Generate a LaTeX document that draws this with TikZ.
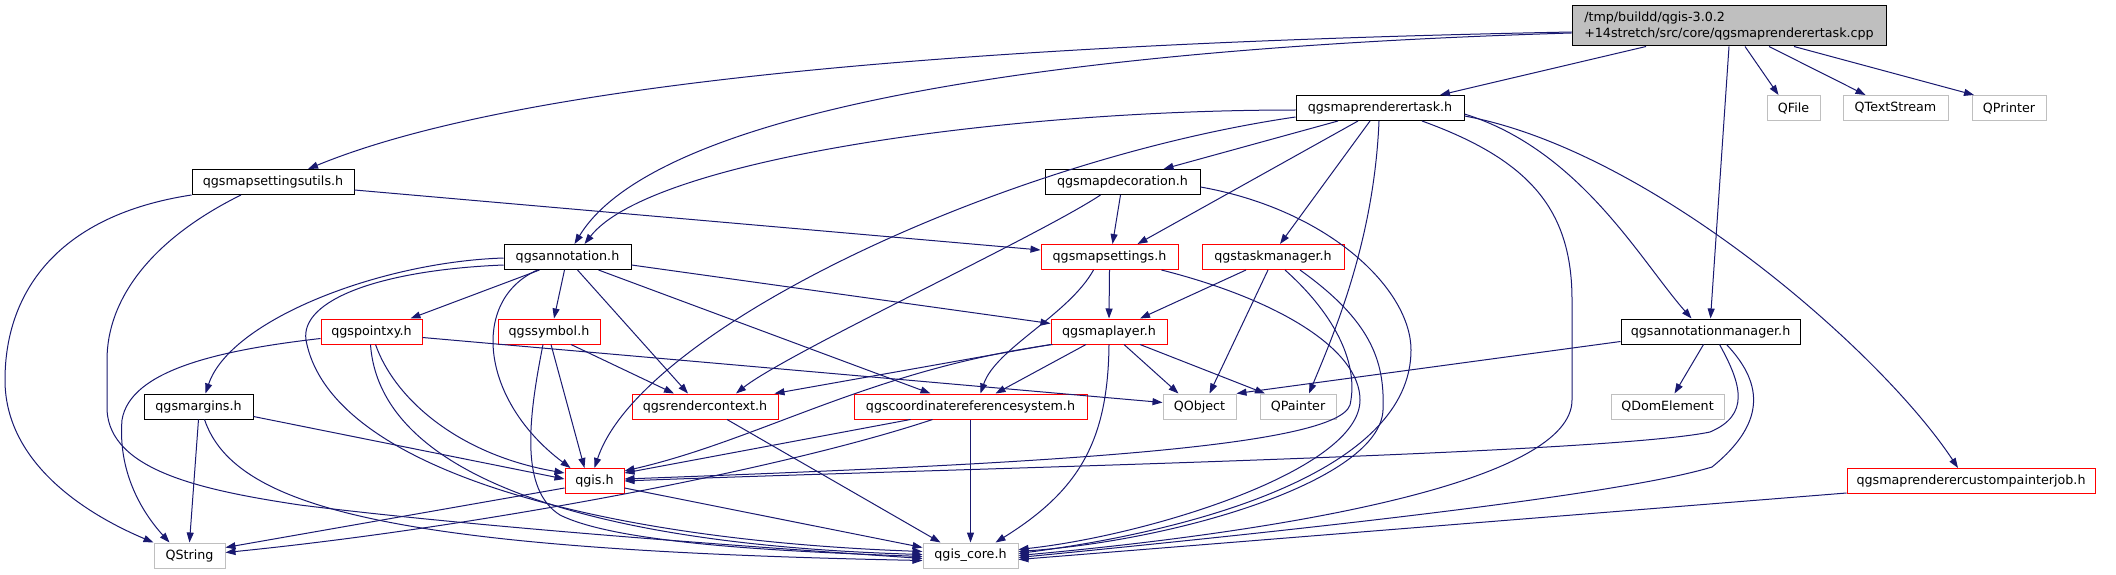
\documentclass[tikz,border=0pt]{standalone}
\usepackage{fontspec}
\setmainfont{DejaVu Sans}
\usetikzlibrary{arrows.meta}
\definecolor{midblue}{HTML}{191970}
\definecolor{grey75}{HTML}{BFBFBF}
\begin{document}
\begin{tikzpicture}[x=1pt,y=-1pt,every node/.style={font=\fontsize{12.7}{15.5}\selectfont},
 hdr/.style={draw=black,line width=1pt,fill=white,minimum height=25,inner sep=0pt},
 hdrcut/.style={hdr,draw=red},
 sys/.style={hdr,draw=grey75},
 dep/.style={draw=midblue,line width=1pt,-{Triangle[length=10pt,width=7pt]}}]
\path[fill=white] (0,0) rectangle (2116,575);
% nodes, row by row
\node[hdr,fill=grey75,minimum width=314,minimum height=40,align=left] (root) at (1729,26) {/tmp/buildd/qgis-3.0.2\\+14stretch/src/core/qgsmaprenderertask.cpp};
\node[hdr,minimum width=168] (mrtaskh) at (1380,108) {qgsmaprenderertask.h}; \node[sys,minimum width=53] (qfile) at (1793.5,108) {QFile};
\node[sys,minimum width=105] (qtextstream) at (1895.5,108) {QTextStream}; \node[sys,minimum width=74] (qprinter) at (2009,108) {QPrinter};
\node[hdr,minimum width=162] (msutils) at (273,182) {qgsmapsettingsutils.h}; \node[hdr,minimum width=155] (mapdeco) at (1122.5,182) {qgsmapdecoration.h};
\node[hdr,minimum width=127] (annot) at (567.5,257) {qgsannotation.h}; \node[hdrcut,minimum width=137] (mapset) at (1109.5,257) {qgsmapsettings.h};
\node[hdrcut,minimum width=142] (taskmgr) at (1273,257) {qgstaskmanager.h};
\node[hdrcut,minimum width=101] (pointxy) at (371.5,331.5) {qgspointxy.h}; \node[hdrcut,minimum width=102] (symbol) at (549,331.5) {qgssymbol.h};
\node[hdrcut,minimum width=116] (maplayer) at (1109,331.5) {qgsmaplayer.h}; \node[hdr,minimum width=179] (annotmgr) at (1710.5,331.5) {qgsannotationmanager.h};
\node[hdr,minimum width=109] (margins) at (198.5,406.5) {qgsmargins.h}; \node[hdrcut,minimum width=146] (rendctx) at (705,406.5) {qgsrendercontext.h};
\node[hdrcut,minimum width=233] (crs) at (970.5,406.5) {qgscoordinatereferencesystem.h}; \node[sys,minimum width=73] (qobject) at (1199.5,406.5) {QObject};
\node[sys,minimum width=76] (qpainter) at (1298,406.5) {QPainter}; \node[sys,minimum width=113] (qdomelement) at (1667.5,406.5) {QDomElement};
\node[hdrcut,minimum width=59] (qgish) at (594.5,481) {qgis.h}; \node[hdrcut,minimum width=248] (custjob) at (1971,481) {qgsmaprenderercustompainterjob.h};
\node[sys,minimum width=71] (qstring) at (189.5,555.5) {QString}; \node[sys,minimum width=95] (qgiscore) at (970.5,555.5) {qgis\_core.h};
% includes of the .cpp
\draw[dep] ([xshift=-83]root.south) -- ([xshift=60]mrtaskh.north); \draw[dep] (root.south) -- (annotmgr.north);
\draw[dep] ([xshift=16]root.south) -- ([xshift=-15]qfile.north); \draw[dep] ([xshift=40]root.south) -- ([xshift=-30]qtextstream.north);
\draw[dep] ([xshift=65]root.south) -- ([xshift=-35]qprinter.north);
\draw[dep] ([yshift=-6]root.west) .. controls (900,45) and (500,90) .. ([xshift=35]msutils.north);
\draw[dep] ([yshift=-7]root.west) .. controls (1000,50) and (650,120) .. ([xshift=7]annot.north);
% qgsmaprenderertask.h
\draw[dep] ([yshift=-2]mrtaskh.west) .. controls (1000,110) and (650,160) .. ([xshift=17]annot.north);
\draw[dep] ([yshift=-9]mrtaskh.west) .. controls (1000,160) and (640,330) .. (qgish.north);
\draw[dep] ([xshift=-42]mrtaskh.south) -- ([xshift=41]mapdeco.north); \draw[dep] ([xshift=-22]mrtaskh.south) -- ([xshift=28]mapset.north);
\draw[dep] ([xshift=-10]mrtaskh.south) -- ([xshift=7]taskmgr.north);
\draw[dep] ([xshift=-1]mrtaskh.south) .. controls +(-5,120) and +(25,-60) .. ([xshift=11]qpainter.north);
\draw[dep] ([xshift=42]mrtaskh.south) .. controls (1530,160) and (1572,210) .. (1572,300) -- (1572,400) .. controls (1572,480) and (1300,530) .. (qgiscore.east);
\draw[dep] ([yshift=-6]mrtaskh.east) .. controls (1580,150) and (1640,260) .. ([xshift=-19]annotmgr.north);
\draw[dep] ([yshift=-8]mrtaskh.east) .. controls (1650,150) and (1880,350) .. ([xshift=-13]custjob.north);
% qgsmapsettingsutils.h, qgsmapdecoration.h
\draw[dep] (msutils.south west) .. controls (60,215) and (5,290) .. (5,380) .. controls (5,470) and (100,520) .. (qstring.north west);
\draw[dep] ([xshift=-32]msutils.south) .. controls (150,240) and (107,300) .. (107,360) -- (107,410) .. controls (110,470) and (200,490) .. (300,505) .. controls (500,530) and (800,550) .. ([yshift=-3]qgiscore.west);
\draw[dep] ([yshift=-8]msutils.east) -- ([yshift=7]mapset.west);
\draw[dep] ([xshift=-2]mapdeco.south) -- ([xshift=3]mapset.north);
\draw[dep] ([xshift=-22]mapdeco.south) .. controls +(-60,40) and +(50,-40) .. ([xshift=31]rendctx.north);
\draw[dep] ([yshift=-5]mapdeco.east) .. controls (1330,210) and (1411,290) .. (1411,350) .. controls (1411,470) and (1200,530) .. ([yshift=2]qgiscore.east);
% qgsannotation.h
\draw[dep] ([xshift=-28]annot.south) -- ([xshift=39]pointxy.north); \draw[dep] ([xshift=-3]annot.south) -- ([xshift=5]symbol.north);
\draw[dep] ([yshift=-1]annot.west) .. controls (380,262) and (230,320) .. ([xshift=7]margins.north);
\draw[dep] ([yshift=-8]annot.west) .. controls (380,270) and (300,300) .. (306,340) .. controls (330,470) and (600,540) .. ([yshift=4]qgiscore.west);
\draw[dep] ([xshift=-30]annot.south) .. controls (470,300) and (480,400) .. ([xshift=-24]qgish.north);
\draw[dep] ([xshift=10]annot.south) -- ([xshift=-17]rendctx.north); \draw[dep] ([xshift=31]annot.south) -- ([xshift=-40]crs.north);
\draw[dep] ([yshift=-8]annot.east) -- ([yshift=8]maplayer.west);
% qgspointxy.h, qgssymbol.h, qgsmargins.h
\draw[dep] ([yshift=-7]pointxy.west) .. controls (220,350) and (130,370) .. (122,420) .. controls (118,470) and (140,510) .. ([xshift=-20]qstring.north);
\draw[dep] ([yshift=-6]pointxy.east) -- ([yshift=4]qobject.west);
\draw[dep] ([xshift=-1]pointxy.south) .. controls (380,480) and (600,545) .. ([yshift=1]qgiscore.west);
\draw[dep] ([xshift=4]pointxy.south) .. controls (395,400) and (460,455) .. ([yshift=8]qgish.west);
\draw[dep] ([xshift=-6]symbol.south) .. controls (528,420) and (520,490) .. (560,515) .. controls (620,545) and (800,552) .. ([yshift=-1]qgiscore.west);
\draw[dep] ([xshift=2]symbol.south) -- ([xshift=-10]qgish.north); \draw[dep] ([xshift=22]symbol.south) -- ([xshift=-31]rendctx.north);
\draw[dep] ([yshift=-10]margins.east) -- ([yshift=2]qgish.west); \draw[dep] (margins.south) -- (qstring.north);
\draw[dep] ([xshift=6]margins.south) .. controls (235,510) and (400,550) .. ([yshift=-5]qgiscore.west);
% qgsmaplayer.h, qgsmapsettings.h, qgstaskmanager.h
\draw[dep] (maplayer.south west) -- ([xshift=-4]rendctx.north east);
\draw[dep] ([xshift=2]maplayer.south west) .. controls (870,370) and (760,440) .. ([yshift=10]qgish.east);
\draw[dep] ([xshift=-23]maplayer.south) -- ([xshift=25]crs.north); \draw[dep] ([xshift=15]maplayer.south) -- ([xshift=-21]qobject.north);
\draw[dep] ([xshift=31]maplayer.south) -- ([xshift=-33]qpainter.north);
\draw[dep] (maplayer.south) .. controls (1108,440) and (1080,490) .. ([xshift=25]qgiscore.north);
\draw[dep] (mapset.south) -- (maplayer.north);
\draw[dep] ([xshift=-16]mapset.south) .. controls +(-25,45) and +(15,-45) .. ([xshift=10]crs.north);
\draw[dep] ([xshift=52]mapset.south) .. controls (1280,300) and (1360,350) .. (1360,400) .. controls (1360,470) and (1150,535) .. ([yshift=6]qgiscore.east);
\draw[dep] ([xshift=-27]taskmgr.south) -- ([xshift=31]maplayer.north); \draw[dep] ([xshift=-5]taskmgr.south) -- ([xshift=10]qobject.north);
\draw[dep] ([xshift=12]taskmgr.south) .. controls (1330,310) and (1360,360) .. (1350,405) .. controls (1335,450) and (1000,465) .. ([yshift=2]qgish.east);
\draw[dep] ([xshift=27]taskmgr.south) .. controls (1370,320) and (1385,360) .. (1383,410) .. controls (1380,480) and (1180,540) .. ([yshift=4]qgiscore.east);
% qgsannotationmanager.h, custom painter job
\draw[dep] ([yshift=-10]annotmgr.west) -- (qobject.north east); \draw[dep] ([xshift=-7]annotmgr.south) -- ([xshift=7]qdomelement.north);
\draw[dep] ([xshift=9]annotmgr.south) .. controls (1742,385) and (1750,415) .. (1710,432) .. controls (1600,455) and (900,470) .. (qgish.east);
\draw[dep] ([xshift=16]annotmgr.south) .. controls (1760,380) and (1770,420) .. (1712,467) .. controls (1620,495) and (1300,530) .. ([yshift=-2]qgiscore.east);
\draw[dep] ([yshift=-12]custjob.west) -- ([yshift=-4]qgiscore.east);
% bottom rows
\draw[dep] ([xshift=22]rendctx.south) -- ([xshift=-30]qgiscore.north);
\draw[dep] ([xshift=-60]crs.south) -- ([yshift=8]qgish.east);
\draw[dep] ([xshift=-38]crs.south) .. controls +(-150,50) and +(250,-25) .. ([yshift=3]qstring.east);
\draw[dep] (crs.south) -- (qgiscore.north);
\draw[dep] ([yshift=-7]qgish.west) -- ([yshift=8]qstring.east); \draw[dep] ([yshift=-7]qgish.east) -- ([yshift=8]qgiscore.west);
\end{tikzpicture}
\end{document}
